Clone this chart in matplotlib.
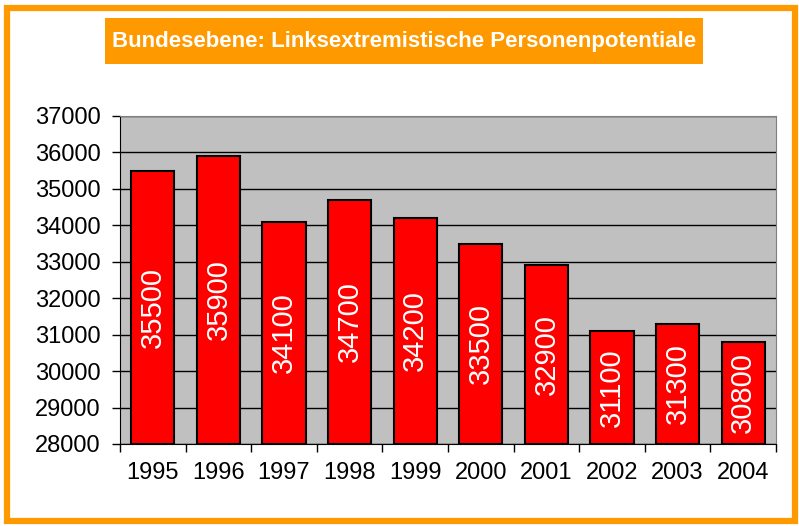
import matplotlib
matplotlib.use("Agg")
import matplotlib.pyplot as plt
from matplotlib.patches import Rectangle

years = ["1995", "1996", "1997", "1998", "1999", "2000", "2001", "2002", "2003", "2004"]
values = [35500, 35900, 34100, 34700, 34200, 33500, 32900, 31100, 31300, 30800]
y_ticks = [28000, 29000, 30000, 31000, 32000, 33000, 34000, 35000, 36000, 37000]
title = "Bundesebene: Linksextremistische Personenpotentiale"

ORANGE = "#FF9900"
RED = "#FF0000"
GREY = "#C0C0C0"

plt.rcParams["font.family"] = ["Liberation Sans", "DejaVu Sans"]

fig = plt.figure(figsize=(7.99, 5.26), dpi=100)
fig.patch.set_facecolor("white")

# orange frame round the whole chart
fig.patches.append(Rectangle((6.5 / 799, 5 / 526), 788.5 / 799, 513 / 526,
                             transform=fig.transFigure, fill=False,
                             edgecolor=ORANGE, linewidth=4.5, zorder=0))

# title box
fig.patches.append(Rectangle((105 / 799, 1 - 64 / 526), 598 / 799, 46 / 526,
                             transform=fig.transFigure, facecolor=ORANGE,
                             edgecolor="none", zorder=1))
fig.text(404 / 799, 1 - 42 / 526, title, color="white", fontsize=16,
         fontweight="bold", ha="center", va="center", zorder=2)

ax = fig.add_axes([120 / 799, 1 - 444 / 526, 656 / 799, 328 / 526])
ax.set_facecolor(GREY)

x = list(range(len(years)))
bars = ax.bar(x, [v - 28000 for v in values], bottom=28000, width=0.66,
              color=RED, edgecolor="black", linewidth=1.5, zorder=3)

for xi, v in zip(x, values):
    ax.text(xi, (28000 + v) / 2, f"{v}", rotation=90, color="white",
            fontsize=21, ha="center", va="center", zorder=4)

ax.set_xlim(-0.5, len(years) - 0.5)
ax.set_ylim(28000, 37000)
ax.set_yticks(y_ticks)
ax.set_yticklabels([str(t) for t in y_ticks], fontsize=17)
ax.yaxis.grid(True, color="black", linewidth=1, zorder=1)
ax.set_axisbelow(True)

ax.set_xticks([i + 0.5 for i in range(-1, len(years))], minor=False)
ax.set_xticklabels([])
ax.set_xticks(x, minor=True)
ax.set_xticklabels(years, minor=True, fontsize=17)
ax.tick_params(axis="x", which="major", direction="out", length=6, width=1)
ax.tick_params(axis="x", which="minor", length=0, pad=13)
ax.tick_params(axis="y", direction="out", length=6, width=1, pad=8)

ax.spines["top"].set_color("#808080")
ax.spines["right"].set_color("#808080")
ax.spines["left"].set_color("black")
ax.spines["bottom"].set_color("black")

plt.savefig("out.png", dpi=100)
